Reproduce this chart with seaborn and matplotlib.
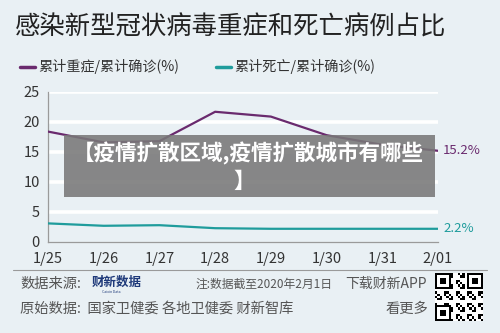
import numpy as np
import pandas as pd
import matplotlib
matplotlib.use("Agg")
import matplotlib.pyplot as plt
import seaborn as sns

dates = ["1/25", "1/26", "1/27", "1/28", "1/29", "1/30", "1/31", "2/01"]
severe_pct = [18.4, 16.6, 16.8, 21.7, 20.9, 17.8, 16.2, 15.2]
death_pct = [3.1, 2.7, 2.8, 2.3, 2.2, 2.2, 2.2, 2.2]
series_names = ["累计重症/累计确诊(%)", "累计死亡/累计确诊(%)"]
yticks = [0, 5, 10, 15, 20, 25]

BG = "#e9f0f4"
PURPLE = "#6a2a6e"
TEAL = "#1f9c9c"

sns.set_theme(style="white")
plt.rcParams["font.family"] = ["Noto Sans CJK SC", "DejaVu Sans"]

df = pd.DataFrame({
    "x": list(range(len(dates))) * 2,
    "value": severe_pct + death_pct,
    "series": [series_names[0]] * len(dates) + [series_names[1]] * len(dates),
})

fig = plt.figure(figsize=(5, 3.33), dpi=100)
fig.patch.set_facecolor(BG)
ax = fig.add_axes([0.096, 0.2733, 0.78, 0.4505])
ax.set_facecolor(BG)

for yv in yticks[1:]:
    ax.axhline(yv, color="white", lw=2.6, zorder=1)

sns.lineplot(data=df, x="x", y="value", hue="series",
             palette=[PURPLE, TEAL], linewidth=1.6, ax=ax, legend=False, zorder=3)

ax.set_xlim(0, len(dates) - 1)
ax.set_ylim(0, 25)
ax.set_xticks(range(len(dates)))
ax.set_xticklabels(dates)
ax.set_yticks(yticks)
ax.set_xlabel("")
ax.set_ylabel("")
for s in ["top", "right"]:
    ax.spines[s].set_visible(False)
for s in ["left", "bottom"]:
    ax.spines[s].set_color("#9a9a9a")
    ax.spines[s].set_linewidth(0.9)
ax.tick_params(axis="both", which="both", length=4, width=0.9, color="#9a9a9a",
               labelsize=10.5, labelcolor="#333333", pad=3)
ax.tick_params(axis="y", pad=2)

# end labels
ax.text(7.09, severe_pct[-1], f"{severe_pct[-1]}%", color=PURPLE, fontsize=9.5,
        va="center", ha="left", clip_on=False)
ax.text(7.09, death_pct[-1], f"{death_pct[-1]}%", color=TEAL, fontsize=9.5,
        va="center", ha="left", clip_on=False)

# title
fig.text(15 / 500, 1 - 28 / 333, "感染新型冠状病毒重症和死亡病例占比", fontsize=18.3,
         color="#222222", va="center", ha="left")

# legend
def legend_item(x0, color, label):
    fig.add_artist(plt.Line2D([x0 / 500, (x0 + 15) / 500], [1 - 67 / 333] * 2,
                              color=color, lw=2.5, transform=fig.transFigure))
    fig.text((x0 + 18) / 500, 1 - 67 / 333, label, fontsize=10.2, color="#333333",
             va="center", ha="left")

legend_item(20, PURPLE, series_names[0])
legend_item(216, TEAL, series_names[1])

# overlay banner
fig.add_artist(plt.Rectangle((64 / 500, 1 - 197 / 333), 371 / 500, 62 / 333,
                             transform=fig.transFigure, facecolor="#787878",
                             alpha=0.88, edgecolor="none", zorder=10))
fig.text(248 / 500, 1 - 153 / 333, "【疫情扩散区域,疫情扩散城市有哪些", fontsize=15.5,
         color="white", fontweight="bold", va="center", ha="center", zorder=11)
fig.text(244 / 500, 1 - 181 / 333, "】", fontsize=15.5,
         color="white", fontweight="bold", va="center", ha="center", zorder=11)

# footer separator
fig.add_artist(plt.Line2D([13 / 500, 487 / 500], [1 - 270 / 333] * 2,
                          color="#9a9a9a", lw=0.8, transform=fig.transFigure))

foot = "#555555"
fig.text(20 / 500, 1 - 284 / 333, "数据来源:", fontsize=10.3, color=foot, va="center")
fig.text(92 / 500, 1 - 282 / 333, "财新数据", fontsize=9, color="#1f3a7a",
         fontweight="bold", va="center")
fig.text(102 / 500, 1 - 292 / 333, "Caixin Data", fontsize=2.5, color="#1f3a7a", va="center")
fig.text(195 / 500, 1 - 284 / 333, "注:数据截至2020年2月1日", fontsize=8.5,
         color=foot, va="center")
fig.text(345 / 500, 1 - 284 / 333, "下载财新APP", fontsize=10, color=foot, va="center")
fig.text(20 / 500, 1 - 309 / 333, "原始数据:  国家卫健委 各地卫健委 财新智库", fontsize=10.3,
         color=foot, va="center")
fig.text(385 / 500, 1 - 309 / 333, "看更多", fontsize=10.3, color=foot, va="center")

# QR-like decoration
qax = fig.add_axes([435 / 500, 1 - 321 / 333, 48 / 500, 48 / 333])
n = 21
grid = np.ones((n, n))
for i in range(n):
    for j in range(n):
        if ((i * 7 + j * 13 + i * j) % 5) < 2:
            grid[i, j] = 0
for (r, c) in [(0, 0), (0, n - 7), (n - 7, 0)]:
    grid[r:r + 7, c:c + 7] = 0
    grid[r + 1:r + 6, c + 1:c + 6] = 1
    grid[r + 2:r + 5, c + 2:c + 5] = 0
qax.imshow(grid, cmap="gray", interpolation="nearest", vmin=0, vmax=1)
qax.axis("off")

fig.savefig("out.png", dpi=100, facecolor=BG)
